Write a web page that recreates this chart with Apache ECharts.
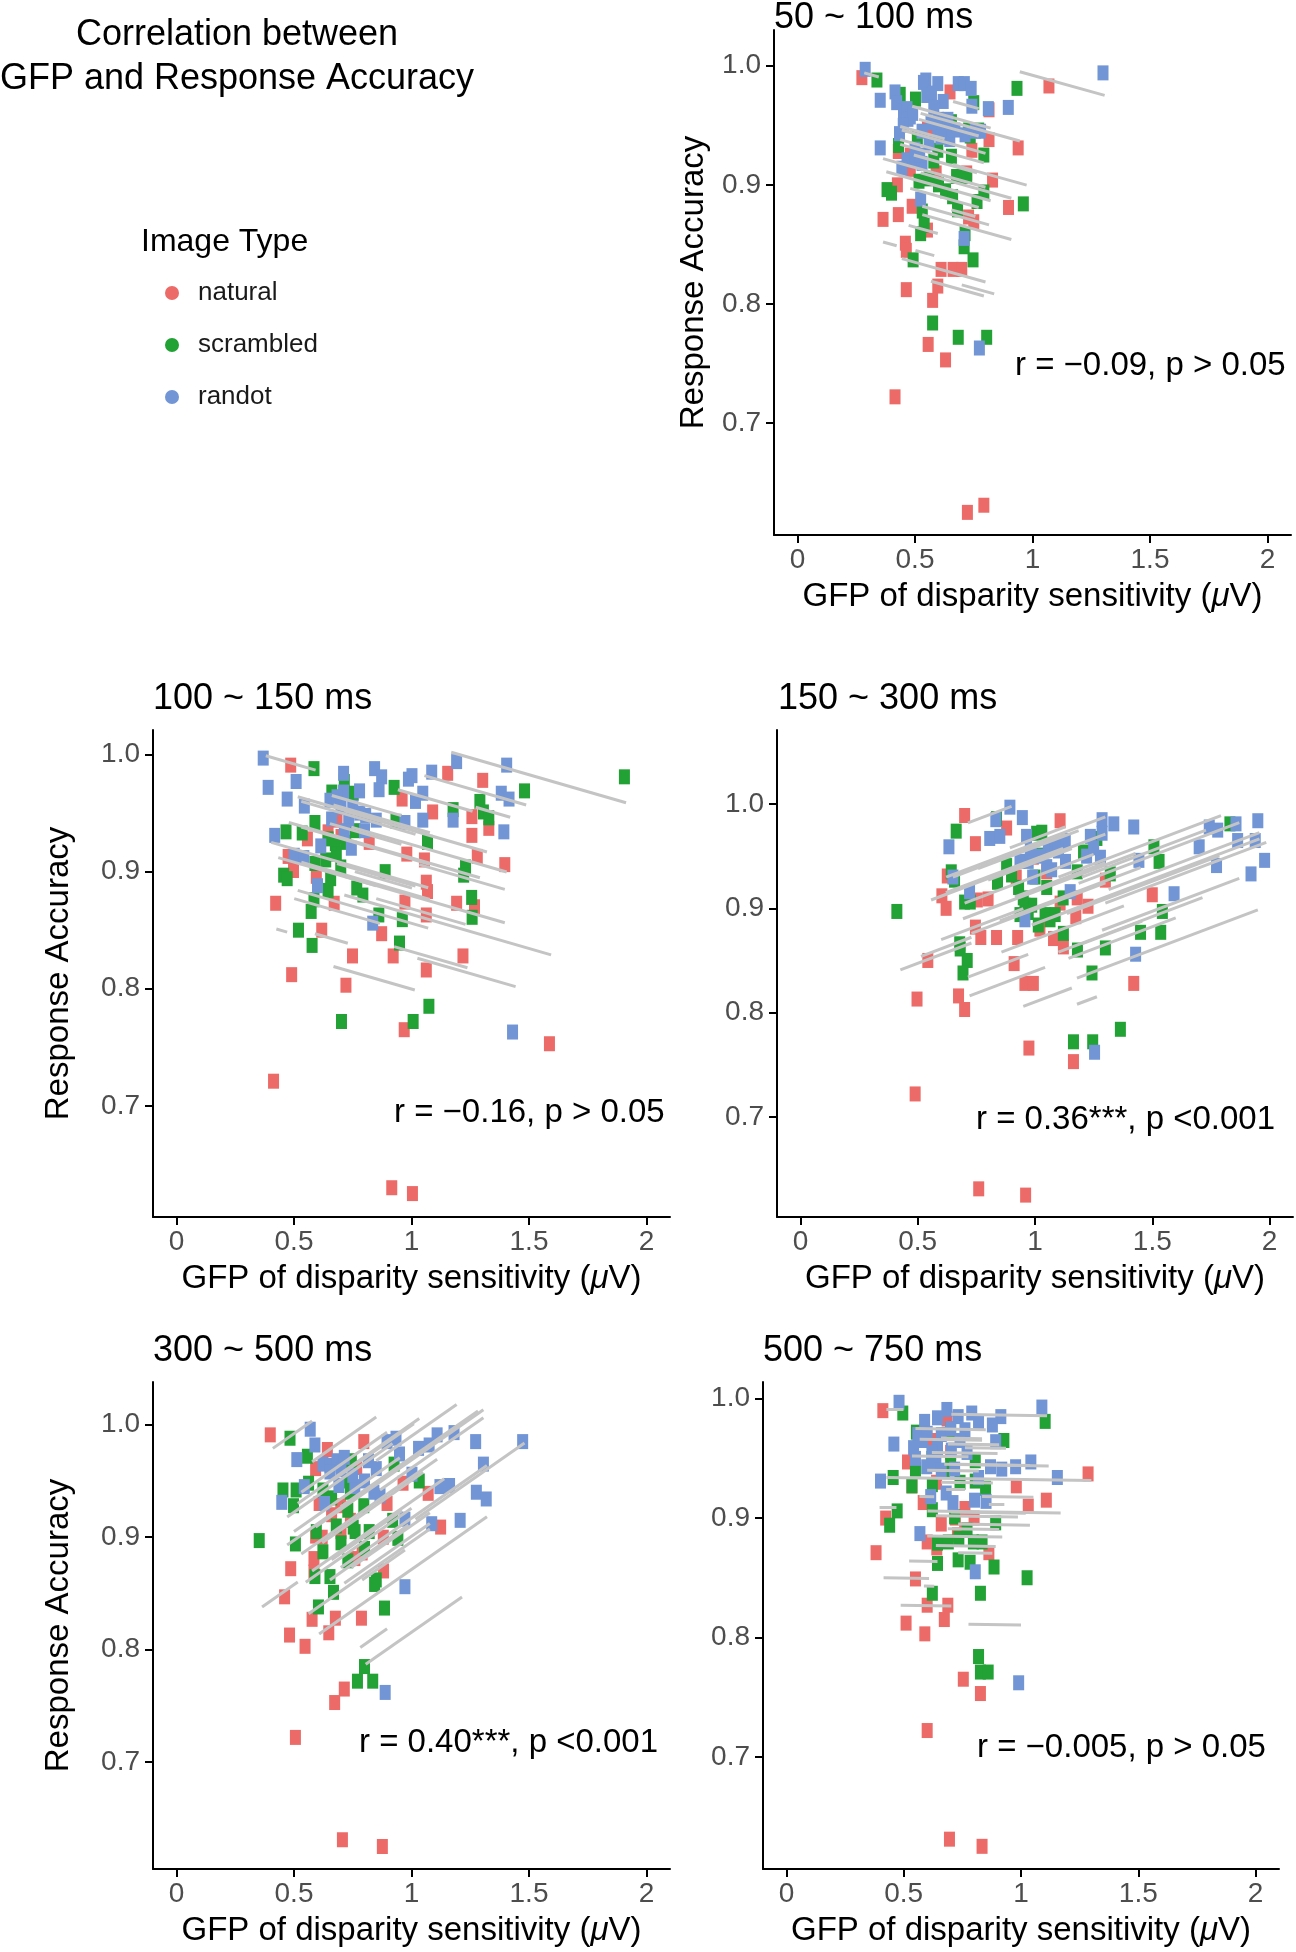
<!DOCTYPE html>
<html><head><meta charset="utf-8">
<script src="https://cdn.jsdelivr.net/npm/echarts@6/dist/echarts.min.js"></script>
<style>html,body{margin:0;padding:0;background:#fff}#chart{width:1296px;height:1952px}</style>
</head><body><div id="chart"></div>
<script>
// ---------- data ----------
const typeNames = ['natural', 'scrambled', 'randot'];
const panelTitles = ['50 ~ 100 ms', '100 ~ 150 ms', '150 ~ 300 ms', '300 ~ 500 ms', '500 ~ 750 ms'];
const rLabels = ['r = \u22120.09, p > 0.05', 'r = \u22120.16, p > 0.05', 'r = 0.36***, p <0.001', 'r = 0.40***, p <0.001', 'r = \u22120.005, p > 0.05'];
const xTicks = [0, 0.5, 1, 1.5, 2];
const yTicks = [0.7, 0.8, 0.9, 1.0];

// panel 1: 50 ~ 100 ms  ([GFP, accuracy])
const p1Natural = [[0.274,0.990],[0.649,0.978],[0.815,0.963],[1.070,0.983],[0.553,0.948],[0.815,0.938],[0.939,0.931],[0.742,0.929],[0.429,0.928],[0.480,0.925],[0.480,0.913],[0.590,0.910],[0.425,0.900],[0.830,0.904],[0.720,0.910],[0.488,0.882],[0.429,0.875],[0.364,0.871],[0.898,0.881],[0.728,0.873],[0.750,0.869],[0.553,0.862],[0.459,0.851],[0.463,0.845],[0.611,0.829],[0.662,0.829],[0.699,0.829],[0.597,0.815],[0.463,0.812],[0.575,0.803],[0.556,0.766],[0.630,0.753],[0.415,0.722],[0.793,0.631],[0.723,0.625]];
const p1Scrambled = [[0.338,0.988],[0.437,0.976],[0.502,0.972],[0.750,0.969],[0.934,0.981],[0.655,0.953],[0.728,0.946],[0.735,0.941],[0.771,0.946],[0.430,0.933],[0.510,0.940],[0.597,0.929],[0.793,0.925],[0.655,0.924],[0.381,0.896],[0.400,0.893],[0.517,0.903],[0.677,0.907],[0.720,0.907],[0.793,0.894],[0.764,0.886],[0.961,0.884],[0.531,0.878],[0.681,0.879],[0.539,0.866],[0.524,0.859],[0.713,0.859],[0.709,0.848],[0.492,0.837],[0.747,0.837],[0.575,0.784],[0.684,0.772],[0.805,0.772],[0.600,0.900],[0.630,0.895],[0.560,0.905],[0.660,0.890],[0.580,0.920]];
const p1Randot = [[0.288,0.997],[0.352,0.971],[0.415,0.978],[0.422,0.969],[0.451,0.962],[0.480,0.957],[0.466,0.964],[0.546,0.988],[0.536,0.986],[0.597,0.985],[0.570,0.977],[0.620,0.970],[0.684,0.985],[0.710,0.985],[0.739,0.981],[0.742,0.966],[0.812,0.964],[0.897,0.965],[1.300,0.994],[0.434,0.943],[0.352,0.931],[0.466,0.921],[0.500,0.920],[0.530,0.918],[0.444,0.914],[0.597,0.945],[0.626,0.943],[0.648,0.938],[0.670,0.946],[0.713,0.942],[0.757,0.945],[0.779,0.945],[0.568,0.952],[0.524,0.888],[0.709,0.855],[0.774,0.763],[0.470,0.955],[0.490,0.960],[0.550,0.975],[0.580,0.965],[0.600,0.955],[0.630,0.950],[0.530,0.945],[0.560,0.935],[0.500,0.930],[0.520,0.925],[0.610,0.940],[0.640,0.955],[0.450,0.950]];
// subject fit lines: [GFP start, GFP end, accuracy at start]; common slope per panel
const p1Lines = [[0.284,0.346,0.994],[0.946,1.307,0.995],[0.488,0.822,0.966],[0.524,0.946,0.960],[0.662,0.771,0.970],[0.517,0.771,0.955],[0.437,0.626,0.949],[0.444,0.800,0.946],[0.437,0.793,0.938],[0.437,0.597,0.934],[0.364,0.800,0.922],[0.495,0.764,0.925],[0.662,0.975,0.917],[0.378,0.822,0.911],[0.524,0.910,0.910],[0.480,0.771,0.897],[0.531,0.815,0.882],[0.531,0.910,0.875],[0.655,0.757,0.879],[0.473,0.597,0.866],[0.364,0.422,0.852],[0.502,0.582,0.845],[0.444,0.800,0.838],[0.568,0.793,0.819],[0.699,0.837,0.816]];

// panel 2: 100 ~ 150 ms
const p2Natural = [[0.486,0.991],[1.154,0.984],[1.303,0.978],[0.960,0.962],[1.090,0.951],[1.257,0.947],[1.329,0.937],[1.257,0.931],[0.557,0.928],[0.683,0.944],[0.645,0.934],[1.280,0.913],[1.397,0.906],[0.980,0.915],[1.055,0.910],[0.475,0.913],[0.498,0.901],[0.595,0.896],[1.063,0.891],[1.068,0.883],[0.972,0.874],[0.671,0.873],[1.192,0.873],[1.268,0.870],[1.063,0.863],[0.422,0.873],[0.618,0.850],[0.873,0.847],[0.749,0.828],[0.922,0.828],[1.219,0.828],[0.490,0.812],[0.721,0.803],[1.063,0.816],[0.969,0.765],[1.587,0.753],[0.413,0.721],[0.916,0.630],[1.004,0.625],[0.700,0.930],[0.820,0.925]];
const p2Scrambled = [[0.585,0.988],[0.714,0.977],[0.926,0.972],[1.481,0.969],[1.906,0.981],[0.661,0.968],[0.752,0.967],[1.177,0.953],[1.291,0.960],[1.306,0.951],[1.329,0.946],[0.934,0.943],[0.589,0.942],[0.466,0.934],[0.535,0.933],[0.645,0.928],[0.676,0.924],[1.068,0.925],[1.230,0.904],[1.222,0.897],[0.456,0.897],[0.471,0.894],[0.589,0.907],[0.635,0.910],[0.699,0.904],[0.888,0.900],[0.656,0.894],[0.645,0.884],[0.767,0.886],[0.793,0.880],[0.585,0.876],[0.573,0.866],[1.256,0.878],[1.258,0.861],[0.861,0.863],[0.961,0.859],[0.519,0.850],[0.577,0.837],[0.949,0.839],[1.074,0.785],[0.702,0.772],[1.007,0.772],[0.720,0.925],[0.760,0.935],[0.680,0.915]];
const p2Randot = [[0.369,0.997],[0.390,0.972],[0.509,0.977],[0.471,0.962],[0.544,0.956],[0.418,0.931],[0.501,0.914],[0.542,0.912],[0.614,0.922],[0.600,0.888],[0.711,0.984],[0.711,0.968],[0.653,0.961],[0.683,0.964],[0.779,0.969],[0.843,0.988],[0.873,0.981],[0.862,0.970],[1.002,0.982],[0.987,0.979],[1.086,0.985],[1.192,0.994],[1.405,0.991],[1.048,0.967],[1.017,0.960],[1.048,0.944],[1.177,0.944],[1.382,0.967],[1.415,0.962],[1.393,0.934],[0.972,0.942],[0.744,0.920],[0.733,0.944],[0.805,0.948],[0.850,0.944],[0.714,0.935],[0.835,0.856],[1.430,0.763],[0.750,0.955],[0.780,0.950],[0.700,0.955],[0.660,0.945],[0.800,0.935]];
const p2Lines = [[0.380,0.592,0.999],[1.169,1.913,1.002],[1.055,1.488,0.982],[0.942,1.260,0.970],[1.273,1.420,0.955],[0.516,0.881,0.964],[0.531,1.017,0.960],[0.661,0.957,0.965],[0.668,1.078,0.957],[0.714,1.321,0.952],[0.478,1.291,0.942],[0.531,1.078,0.938],[0.653,0.957,0.941],[0.744,1.405,0.938],[0.403,1.071,0.925],[0.433,0.850,0.912],[0.531,1.078,0.908],[0.683,1.017,0.907],[0.759,1.002,0.900],[0.714,1.397,0.896],[1.033,1.397,0.906],[0.516,1.071,0.884],[0.714,1.594,0.880],[0.501,0.866,0.877],[0.850,1.230,0.877],[0.425,0.471,0.851],[0.589,0.729,0.847],[0.926,1.238,0.836],[1.025,1.443,0.826],[0.668,1.014,0.819]];

// panel 3: 150 ~ 300 ms
const p3Natural = [[0.700,0.989],[0.879,0.977],[1.107,0.984],[0.746,0.962],[0.626,0.931],[0.603,0.912],[0.621,0.900],[0.800,0.909],[0.754,0.908],[0.993,0.949],[1.107,0.905],[1.226,0.902],[1.300,0.927],[1.500,0.913],[1.174,0.892],[1.021,0.880],[1.079,0.871],[1.121,0.863],[0.746,0.882],[0.769,0.872],[0.836,0.872],[0.926,0.872],[0.543,0.850],[0.911,0.847],[0.957,0.828],[0.993,0.828],[1.421,0.828],[0.497,0.813],[0.674,0.816],[0.700,0.803],[0.974,0.766],[1.164,0.753],[0.489,0.722],[0.760,0.631],[0.960,0.625],[1.050,0.935],[0.920,0.930],[1.180,0.910]];
const p3Scrambled = [[0.664,0.974],[0.836,0.986],[1.831,0.981],[0.643,0.935],[0.657,0.927],[0.840,0.925],[0.879,0.941],[0.900,0.932],[1.007,0.972],[1.029,0.973],[1.029,0.951],[1.207,0.954],[1.264,0.967],[1.321,0.933],[1.507,0.959],[1.529,0.945],[0.700,0.906],[0.724,0.906],[0.411,0.897],[0.957,0.903],[0.986,0.903],[0.936,0.894],[0.971,0.896],[1.043,0.894],[1.064,0.889],[1.014,0.884],[1.086,0.894],[1.121,0.876],[1.543,0.897],[1.450,0.877],[1.536,0.877],[0.679,0.866],[0.681,0.861],[0.711,0.850],[0.693,0.838],[1.181,0.860],[1.300,0.862],[1.243,0.838],[1.364,0.784],[1.164,0.772],[1.246,0.772],[1.000,0.930],[1.050,0.920],[0.930,0.920],[1.120,0.910],[1.180,0.935],[0.950,0.910]];
const p3Randot = [[0.893,0.997],[0.946,0.987],[0.833,0.985],[0.807,0.967],[0.850,0.969],[0.633,0.959],[0.964,0.969],[1.114,0.962],[1.129,0.965],[1.286,0.985],[1.286,0.972],[1.336,0.981],[1.421,0.978],[1.236,0.969],[1.700,0.959],[1.743,0.978],[1.779,0.975],[1.857,0.981],[1.950,0.984],[1.864,0.965],[1.939,0.965],[1.979,0.946],[1.921,0.933],[1.774,0.941],[1.443,0.946],[0.650,0.930],[0.721,0.916],[0.971,0.945],[0.936,0.945],[1.057,0.959],[1.086,0.959],[1.279,0.949],[1.150,0.916],[1.593,0.914],[0.957,0.889],[1.071,0.937],[1.429,0.856],[1.254,0.762],[0.980,0.955],[1.020,0.950],[1.100,0.955],[1.130,0.945],[1.220,0.950],[1.250,0.958],[0.990,0.930],[1.050,0.940]];
const p3Lines = [[0.714,0.900,0.982],[0.621,1.300,0.930],[0.650,1.129,0.930],[0.757,1.186,0.938],[0.893,1.129,0.958],[0.557,1.300,0.908],[0.693,1.429,0.890],[1.100,1.793,0.930],[1.186,1.871,0.924],[1.200,1.729,0.930],[0.986,1.957,0.884],[0.914,1.300,0.911],[0.729,1.300,0.876],[0.514,0.729,0.854],[0.426,0.729,0.841],[0.857,1.379,0.858],[1.100,1.714,0.858],[1.143,1.600,0.852],[1.200,1.457,0.866],[1.179,1.950,0.833],[0.714,0.971,0.834],[0.721,1.043,0.816],[0.950,1.157,0.806],[1.179,1.264,0.808],[1.136,1.786,0.895],[1.286,1.871,0.879],[1.300,1.986,0.905],[1.314,1.957,0.918],[0.800,1.157,0.927],[0.620,1.120,0.915],[0.700,1.250,0.905],[0.850,1.450,0.888],[0.600,0.950,0.870]];

// panel 4: 300 ~ 500 ms
const p4Natural = [[0.399,0.991],[0.797,0.985],[0.642,0.978],[0.592,0.961],[0.767,0.962],[1.071,0.939],[1.124,0.909],[0.607,0.930],[0.699,0.928],[0.896,0.930],[0.964,0.948],[0.585,0.881],[0.592,0.901],[0.486,0.872],[0.585,0.869],[0.759,0.881],[0.881,0.870],[0.460,0.847],[0.577,0.827],[0.676,0.828],[0.787,0.828],[0.481,0.813],[0.547,0.803],[0.648,0.815],[0.714,0.765],[0.673,0.753],[0.506,0.722],[0.706,0.631],[0.876,0.625],[0.700,0.905],[0.880,0.900],[0.790,0.886],[0.660,0.920],[0.620,0.900],[0.740,0.915]];
const p4Scrambled = [[0.483,0.988],[0.557,0.972],[0.453,0.942],[0.509,0.942],[0.623,0.942],[0.498,0.928],[0.562,0.948],[0.729,0.950],[0.744,0.968],[0.797,0.928],[0.926,0.965],[1.033,0.950],[0.352,0.897],[0.506,0.894],[0.595,0.905],[0.623,0.887],[0.729,0.924],[0.752,0.909],[0.729,0.879],[0.653,0.865],[0.589,0.865],[0.850,0.862],[0.843,0.858],[0.668,0.851],[0.604,0.838],[0.885,0.837],[0.942,0.899],[0.800,0.785],[0.770,0.772],[0.835,0.772],[0.820,0.905],[0.700,0.895],[0.920,0.915],[0.660,0.935],[0.760,0.905],[0.800,0.890],[0.680,0.910],[0.740,0.940]];
const p4Randot = [[0.569,0.996],[0.589,0.982],[0.512,0.969],[0.623,0.965],[0.653,0.964],[0.683,0.968],[0.714,0.971],[0.653,0.958],[0.691,0.946],[0.544,0.945],[0.448,0.931],[0.759,0.945],[0.817,0.968],[0.850,0.961],[0.896,0.985],[0.934,0.988],[0.949,0.974],[1.030,0.979],[1.075,0.982],[1.109,0.991],[1.181,0.993],[1.273,0.985],[1.306,0.965],[1.002,0.956],[1.121,0.945],[1.162,0.946],[1.276,0.940],[1.318,0.934],[1.207,0.915],[1.086,0.912],[1.473,0.985],[0.972,0.916],[0.866,0.937],[0.972,0.856],[0.888,0.762],[0.750,0.955],[0.800,0.950],[0.840,0.940],[0.700,0.960],[0.630,0.930]];
const p4Lines = [[0.410,0.577,0.979],[0.577,0.850,0.967],[0.668,1.010,0.951],[0.850,1.192,0.968],[0.531,0.896,0.940],[0.516,1.033,0.930],[0.471,0.919,0.918],[0.471,0.942,0.893],[0.699,1.283,0.927],[0.592,1.306,0.909],[0.531,1.109,0.885],[0.699,1.321,0.873],[0.577,1.139,0.870],[0.562,1.078,0.832],[0.607,1.321,0.814],[0.364,0.516,0.838],[0.714,1.078,0.859],[0.805,1.215,0.787],[0.782,0.896,0.802],[0.790,0.972,0.862],[1.017,1.481,0.916],[0.653,0.987,0.862],[0.744,1.078,0.873],[0.866,1.306,0.942],[0.500,0.950,0.905],[0.620,1.050,0.895],[0.550,1.000,0.860],[0.660,0.960,0.880]];

// panel 5: 500 ~ 750 ms
const p5Natural = [[0.411,0.990],[0.685,0.983],[0.516,0.947],[0.535,0.927],[0.423,0.900],[0.583,0.913],[0.761,0.908],[0.980,0.927],[1.031,0.910],[1.108,0.915],[1.286,0.937],[0.600,0.880],[0.641,0.875],[0.729,0.886],[0.863,0.871],[0.382,0.871],[0.550,0.849],[0.600,0.827],[0.688,0.827],[0.510,0.812],[0.673,0.815],[0.590,0.803],[0.754,0.765],[0.827,0.753],[0.600,0.722],[0.695,0.631],[0.834,0.625],[0.700,0.955],[0.620,0.965],[0.800,0.900],[0.660,0.895],[0.640,0.930],[0.720,0.900],[0.760,0.890]];
const p5Scrambled = [[0.496,0.988],[1.103,0.981],[0.700,0.974],[0.554,0.972],[0.927,0.965],[0.550,0.941],[0.455,0.934],[0.535,0.927],[0.622,0.928],[0.673,0.940],[0.805,0.931],[0.849,0.925],[0.805,0.948],[0.472,0.906],[0.440,0.894],[0.622,0.907],[0.717,0.901],[0.892,0.896],[0.644,0.879],[0.735,0.883],[0.797,0.880],[0.834,0.880],[0.644,0.862],[0.732,0.865],[0.783,0.863],[0.885,0.859],[1.026,0.850],[0.622,0.837],[0.827,0.837],[0.819,0.784],[0.827,0.771],[0.860,0.771],[0.620,0.950],[0.700,0.945],[0.740,0.930],[0.770,0.890],[0.690,0.880]];
const p5Randot = [[0.480,0.997],[1.089,0.993],[0.684,0.991],[0.644,0.984],[0.732,0.985],[0.790,0.988],[0.819,0.980],[0.914,0.985],[0.878,0.978],[0.589,0.981],[0.560,0.970],[0.600,0.971],[0.458,0.962],[0.542,0.959],[0.644,0.959],[0.703,0.957],[0.761,0.974],[0.892,0.964],[0.598,0.943],[0.637,0.945],[0.401,0.931],[0.717,0.941],[0.870,0.943],[0.918,0.941],[0.977,0.943],[1.042,0.947],[0.819,0.934],[1.155,0.934],[0.681,0.921],[0.615,0.918],[0.710,0.913],[0.802,0.915],[0.851,0.914],[0.569,0.887],[0.805,0.855],[0.990,0.762],[0.580,0.965],[0.660,0.970],[0.700,0.975],[0.740,0.965],[0.620,0.955],[0.550,0.950],[0.770,0.955],[0.660,0.940]];
const p5Lines = [[0.426,0.499,0.991],[0.703,1.111,0.987],[0.568,0.834,0.966],[0.659,0.834,0.967],[0.688,0.907,0.962],[0.761,0.936,0.959],[0.535,0.776,0.952],[0.673,1.118,0.945],[0.426,1.300,0.934],[0.732,1.038,0.945],[0.681,0.761,0.924],[0.567,0.630,0.918],[0.834,1.053,0.918],[0.397,0.469,0.909],[0.863,0.929,0.912],[0.601,1.169,0.906],[0.637,0.987,0.902],[0.732,1.038,0.895],[0.688,0.907,0.891],[0.637,0.892,0.877],[0.732,0.878,0.871],[0.523,0.644,0.864],[0.414,0.608,0.850],[0.586,0.630,0.843],[0.487,0.703,0.827],[0.776,1.000,0.811],[0.550,0.850,0.975],[0.620,0.900,0.955],[0.600,0.820,0.940],[0.660,0.880,0.930],[0.700,1.020,0.905],[0.600,0.920,0.885]];

// common within-subject slope of each panel
const lineSlopes = [-0.055, -0.058, 0.085, 0.146, -0.003];

// ---------- layout & style ----------
const panels = [
  {pts: [p1Natural, p1Scrambled, p1Randot], lines: p1Lines},
  {pts: [p2Natural, p2Scrambled, p2Randot], lines: p2Lines},
  {pts: [p3Natural, p3Scrambled, p3Randot], lines: p3Lines},
  {pts: [p4Natural, p4Scrambled, p4Randot], lines: p4Lines},
  {pts: [p5Natural, p5Scrambled, p5Randot], lines: p5Lines}
];
const layout = [
  {grid: {left: 774, top: 30, width: 517, height: 505}, ymin: 0.606, ymax: 1.030, yName: true, yGap: 64, title: [774, 18], rText: [1015, 366]},
  {grid: {left: 153, top: 730, width: 517, height: 487}, ymin: 0.605, ymax: 1.021, yName: true, yGap: 78, title: [153, 699], rText: [394, 1113]},
  {grid: {left: 777, top: 730, width: 516, height: 487}, ymin: 0.604, ymax: 1.071, yName: false, yGap: 0, title: [778, 699], rText: [976, 1120]},
  {grid: {left: 153, top: 1382, width: 517, height: 487}, ymin: 0.605, ymax: 1.038, yName: true, yGap: 78, title: [153, 1351], rText: [359, 1743]},
  {grid: {left: 763, top: 1382, width: 516, height: 487}, ymin: 0.606, ymax: 1.014, yName: false, yGap: 0, title: [763, 1351], rText: [977, 1748]}
];
const colors = ['#EC6A67', '#22A135', '#7195D5'];
const FONT = '"Liberation Sans", Arial, Helvetica, sans-serif';
const axisLineStyle = {color: '#000', width: 2};

const grids = [], xAxes = [], yAxes = [], series = [], graphics = [];
layout.forEach((L, p) => {
  grids.push(Object.assign({containLabel: false}, L.grid));
  xAxes.push({
    type: 'value', gridIndex: p, min: -0.1, max: 2.1,
    axisLine: {show: true, onZero: false, lineStyle: axisLineStyle},
    axisTick: {show: true, length: 8, lineStyle: axisLineStyle, customValues: xTicks},
    axisLabel: {customValues: xTicks, fontSize: 28, color: '#4d4d4d', margin: 11, fontFamily: FONT},
    splitLine: {show: false},
    name: 'GFP of disparity sensitivity ({i|\u03bc}V)', nameLocation: 'middle', nameGap: 45,
    nameTextStyle: {fontSize: 33, color: '#000', fontFamily: FONT,
      rich: {i: {fontSize: 33, fontStyle: 'italic', color: '#000', fontFamily: FONT}}}
  });
  yAxes.push({
    type: 'value', gridIndex: p, min: L.ymin, max: L.ymax,
    axisLine: {show: true, onZero: false, lineStyle: axisLineStyle},
    axisTick: {show: true, length: 8, lineStyle: axisLineStyle, customValues: yTicks},
    axisLabel: {customValues: yTicks, formatter: v => v.toFixed(1), fontSize: 28, color: '#4d4d4d', margin: 13, fontFamily: FONT},
    splitLine: {show: false},
    name: L.yName ? 'Response Accuracy' : '', nameLocation: 'middle', nameGap: L.yGap, nameRotate: 90,
    nameTextStyle: {fontSize: 33, color: '#000', fontFamily: FONT}
  });
  const P = panels[p];
  P.pts.forEach((arr, t) => {
    series.push({
      name: typeNames[t], type: 'scatter', xAxisIndex: p, yAxisIndex: p,
      data: arr, symbol: 'rect', symbolSize: [11, 15],
      itemStyle: {color: colors[t], opacity: 1}, z: 2, silent: true
    });
  });
  const s = lineSlopes[p];
  series.push({
    type: 'lines', coordinateSystem: 'cartesian2d', xAxisIndex: p, yAxisIndex: p,
    polyline: false, silent: true, z: 3,
    lineStyle: {color: '#c4c4c4', width: 3, opacity: 1},
    data: P.lines.map(l => ({coords: [[l[0], l[2]], [l[1], l[2] + s * (l[1] - l[0])]]}))
  });
  graphics.push({type: 'text', x: L.title[0], y: L.title[1], z: 100,
    style: {text: panelTitles[p], font: '36px ' + FONT, fill: '#000', verticalAlign: 'middle', align: 'left'}});
  graphics.push({type: 'text', x: L.rText[0], y: L.rText[1], z: 100,
    style: {text: rLabels[p], font: '33px ' + FONT, fill: '#000', verticalAlign: 'middle', align: 'left'}});
});

graphics.push({type: 'text', x: 237, y: 13, z: 100,
  style: {text: 'Correlation between\nGFP and Response Accuracy', font: '36px ' + FONT, lineHeight: 44,
    fill: '#000', align: 'center', verticalAlign: 'top'}});
graphics.push({type: 'text', x: 141, y: 242, z: 100,
  style: {text: 'Image Type', font: '32px ' + FONT, fill: '#000', align: 'left', verticalAlign: 'middle'}});

const chart = echarts.init(document.getElementById('chart'), null, {renderer: 'canvas'});
chart.setOption({
  animation: false,
  backgroundColor: '#fff',
  textStyle: {fontFamily: FONT},
  grid: grids, xAxis: xAxes, yAxis: yAxes, series: series,
  legend: {
    data: typeNames, orient: 'vertical', left: 160, top: 275, itemGap: 26,
    icon: 'circle', itemWidth: 14, itemHeight: 14, selectedMode: false,
    textStyle: {fontSize: 26, color: '#1a1a1a', fontFamily: FONT, padding: [0, 0, 0, 14]}
  },
  graphic: graphics
});
</script></body></html>
